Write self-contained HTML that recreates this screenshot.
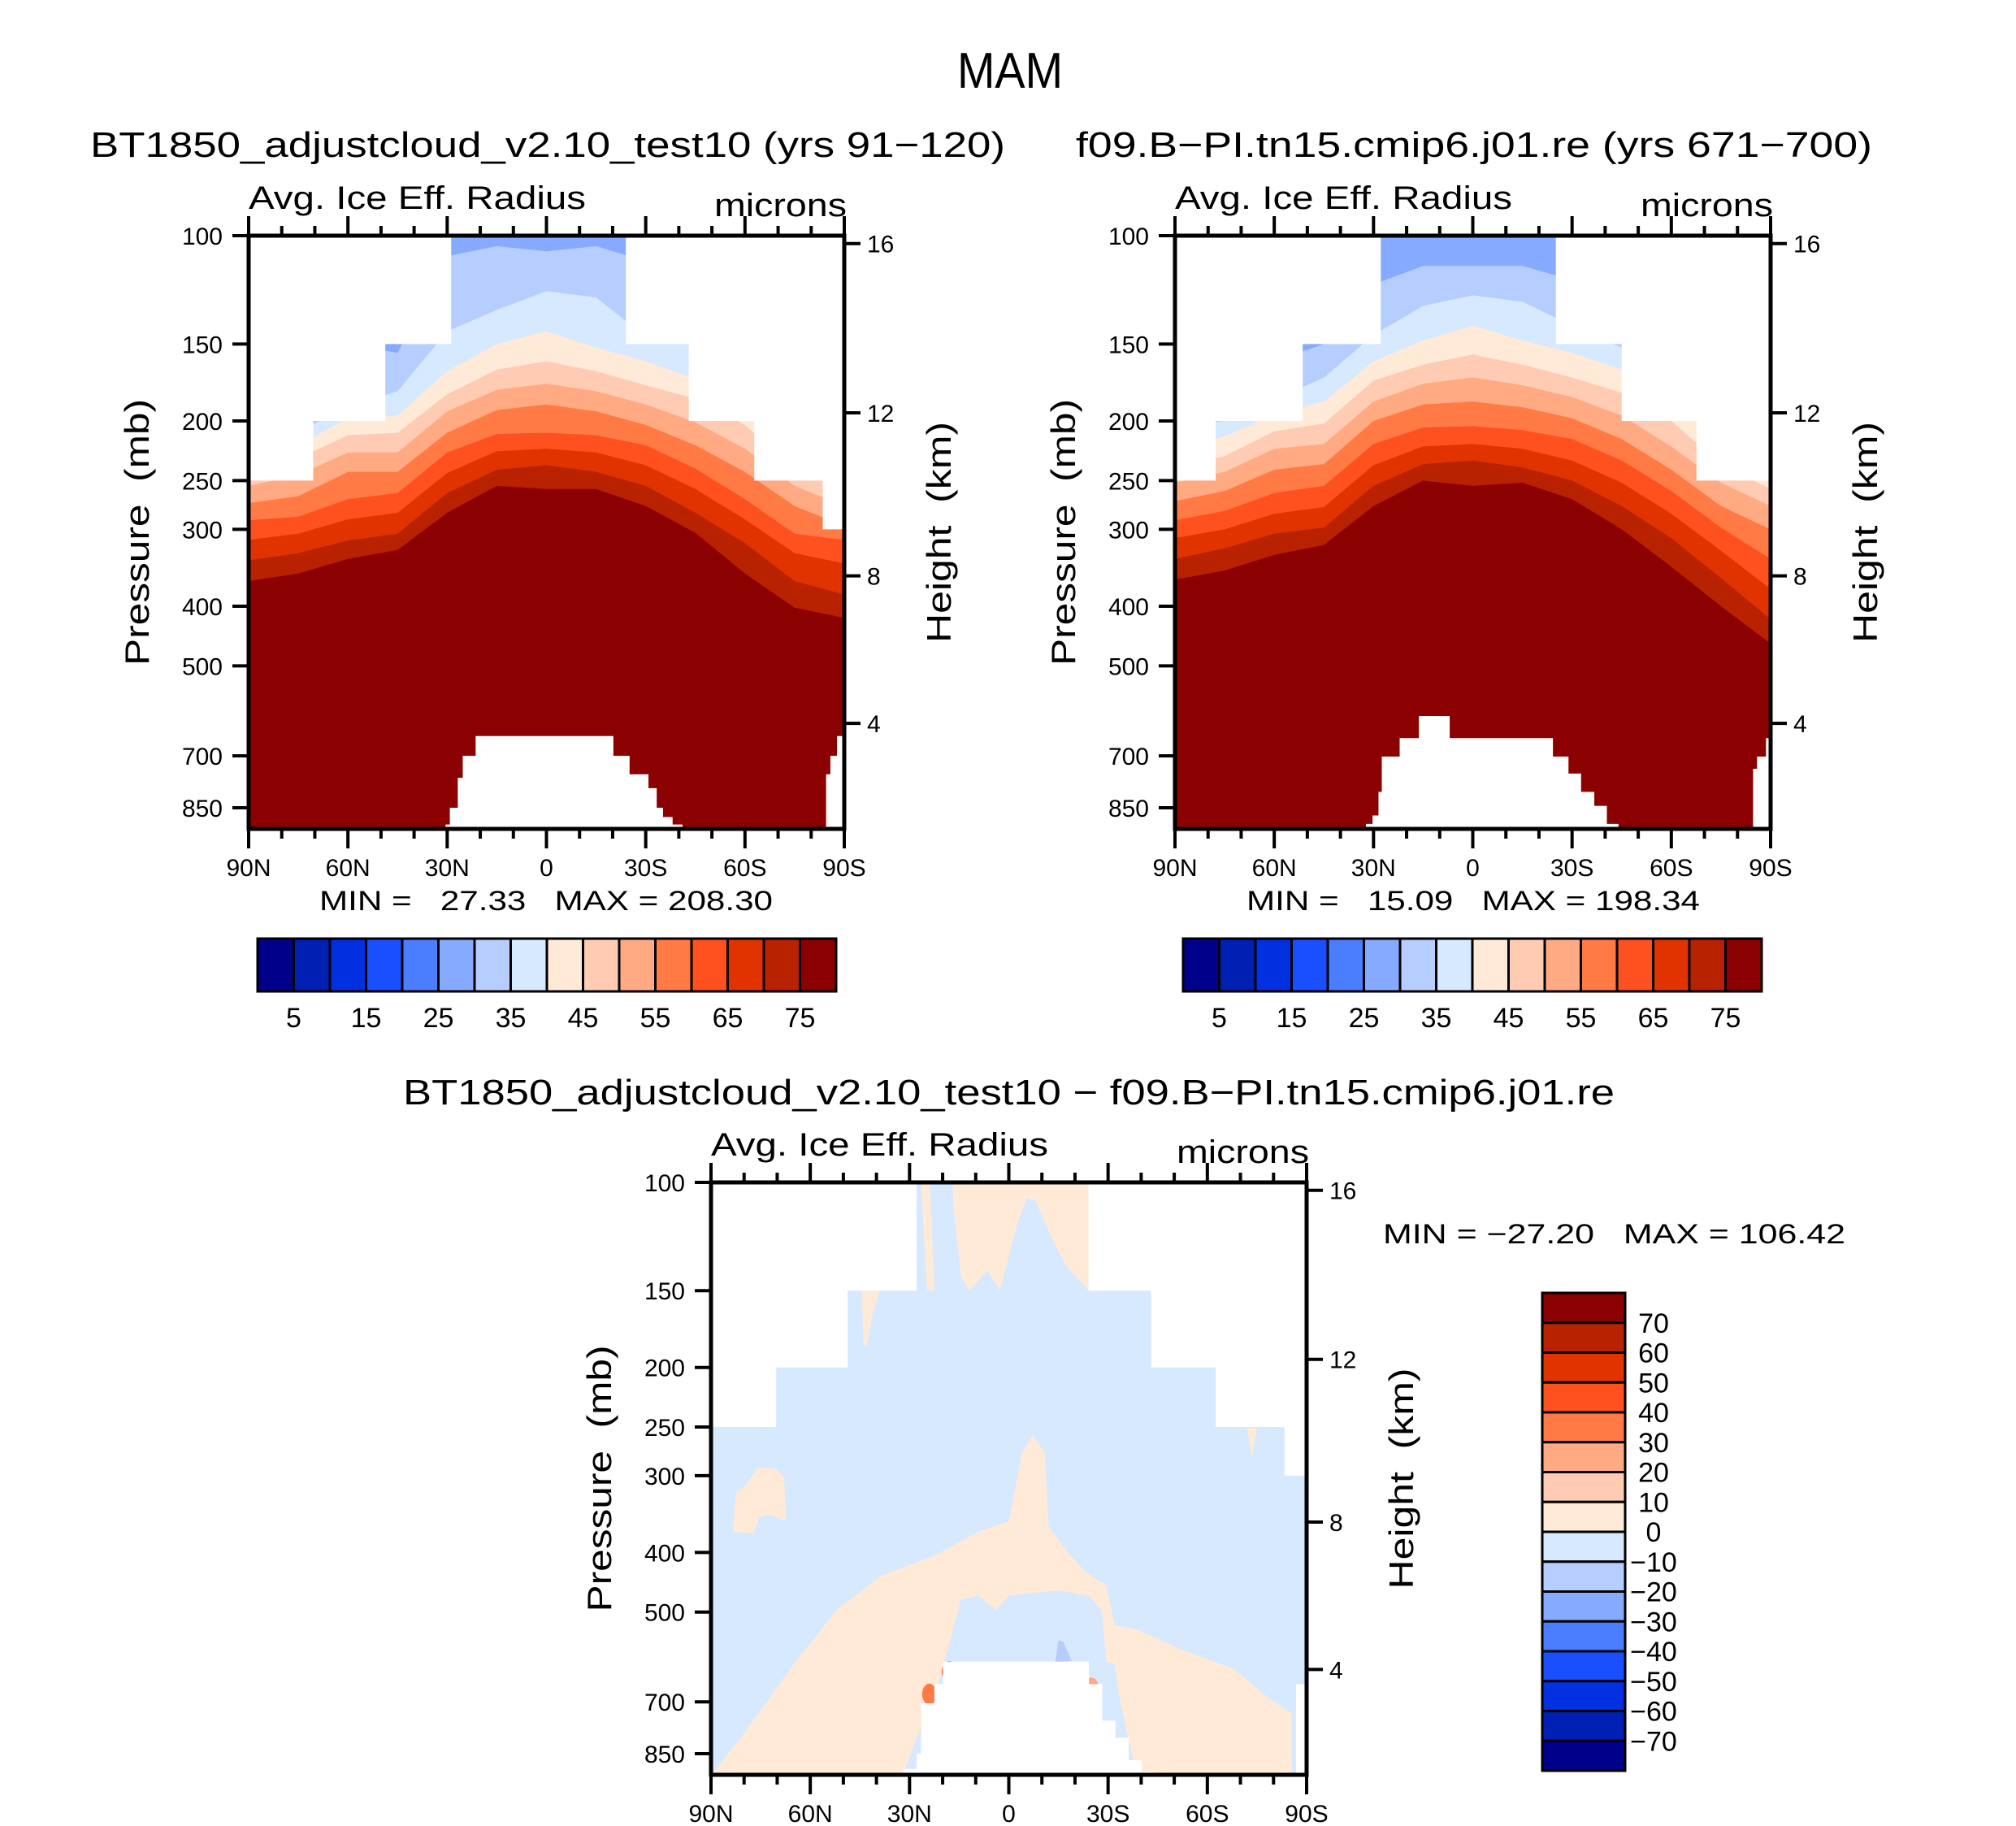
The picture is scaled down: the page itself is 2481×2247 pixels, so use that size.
<!DOCTYPE html>
<html><head><meta charset="utf-8"><style>
html,body{margin:0;padding:0;background:#fff}
svg{display:block}
text{font-family:"Liberation Sans",sans-serif;fill:#000;white-space:pre}
</style></head><body>
<svg id="fig" width="2481" height="2247" viewBox="0 0 2481 2247" xmlns="http://www.w3.org/2000/svg">
<rect width="2481" height="2247" fill="#fff"/>
<text x="1243" y="108" font-size="62" text-anchor="middle" textLength="130" lengthAdjust="spacingAndGlyphs">MAM</text>
<g id="p1"></g>
<g id="p2"></g>
<g id="p3"></g>
</svg>
<script>
// ---- data ----
const lats=[90,75,60,45,30,15,0,-15,-30,-45,-60,-75,-90];
const levels=[30,35,40,45,50,55,60,65,70,75];
// panel 1 boundary pressures (mb) per level
const a1_L30=[150,150,150,155,108,104,106,104,110,125,150,190,210];
const a1_L35=[210,208,190,179,143,132,123,126,146,150,175,210,230];
const a1_L40=[225,219,198,196,166,150,143,152,160,171,190,225,245];
const a1_L45=[240,230,211,209,181,165,160,166,175,184,203,240,258];
const a1_L50=[255,245,225,225,193,178,174,179,188,201,222,255,275];
const a1_L55=[272,265,242,242,209,192,188,193,203,219,242,275,296];
const a1_L60=[290,286,268,262,225,210,209,211,219,239,268,305,312];
const a1_L65=[312,305,289,282,243,224,222,225,236,258,289,328,341];
const a1_L70=[337,328,313,305,262,240,236,242,255,282,316,364,383];
const a1_L75=[364,354,335,324,282,255,258,258,275,304,354,402,418];
// panel 2
const a2_L30=[160,160,160,150,120,112,112,112,118,140,158,185,210];
const a2_L35=[205,200,185,170,145,130,125,128,140,152,170,200,230];
const a2_L40=[222,212,195,186,160,148,140,148,155,165,182,215,245];
const a2_L45=[238,228,208,202,172,162,156,162,170,180,200,235,258];
const a2_L50=[252,242,222,218,186,174,170,175,183,196,220,252,275];
const a2_L55=[270,260,240,235,200,188,186,190,198,214,240,275,300];
const a2_L60=[290,280,262,255,218,205,204,207,214,232,260,298,335];
const a2_L65=[310,300,283,276,236,220,218,222,232,252,283,325,375];
const a2_L70=[335,322,305,298,255,235,232,238,250,275,310,360,420];
const a2_L75=[362,350,330,318,275,250,255,252,268,300,345,400,460];
// data-top staircase (lat edges, pressure of top)
const stair1Lat=[90,70.5,48.7,28.8,-24,-43,-62.8,-83.5,-90];
const stair1P=[250,200,150,100,150,200,250,300];
const stair2Lat=[90,77.7,51.4,27.8,-25.1,-45,-67.6,-90];
const stair2P=[250,200,150,100,150,200,250];
const stair3Lat=[90,70.3,48.7,27.9,-24.1,-43,-62.5,-83.3,-90];
const stair3P=[250,200,150,100,150,200,250,300];
// below-surface masks: segment start lat, end lat, surface pressure
const mask1From=[30.5,29.2,26.8,25.3,21.4,-20.1,-25,-30.7,-33.2,-35.1,-38,-84.5,-85.8,-87.8];
const mask1To  =[29.2,26.8,25.3,21.4,-20.1,-25,-30.7,-33.2,-35.1,-38,-41,-85.8,-87.8,-90];
const mask1P   =[905,850,760,700,650,700,750,790,850,880,905,750,700,650];
const mask2From=[32.3,30.3,28.5,27.5,22.1,16.3,7.1,-24.1,-28.8,-32.6,-36.6,-40.4,-84.7,-85.9,-88.6];
const mask2To  =[30.3,28.5,27.5,22.1,16.3,7.1,-24.1,-28.8,-32.6,-36.6,-40.4,-43.9,-85.9,-88.6,-90];
const mask2P   =[903,875,801,702,655,603,655,702,748,801,844,903,735,702,655];
const mask3From=[31.9,27.9,26.5,22.5,19.9,-24.1,-28.1,-32.1,-36.1,-40.1,-86.8];
const mask3To  =[27.9,26.5,22.5,19.9,-24.1,-28.1,-32.1,-36.1,-40.1,-44.1,-90];
const mask3P   =[900,850,704,655,602,655,751,801,871,910,655];
// difference panel: positive (0-10) regions as lat/pressure outlines
const posMainLat=[90,81,65,52,38.5,22.5,9.2,0,-4,-7.3,-10.8,-12,-17.5,-22.8,-29.5,-32,-38.8,-52,-68,-78.8,-85.5,-85.5];
const posMainP  =[928,801,608,496,436,405,370,356,275,258,275,363,398,428,453,525,534,575,619,692,731,928];
const negHoleLat=[31.9,27.9,22.5,18.5,14.5,9.2,3.9,0,-14.8,-24.1,-28.1,-29.5,-32.1,-33.5,-36.1,-38.8];
const negHoleP  =[928,801,692,575,478,470,496,470,461,470,496,602,608,692,801,928];
const posTopLat=[17,-24.1,-24.1,-17.5,-14.8,-10.8,-8,-5.5,-2.7,0,2.7,6.5,11.9,14.5,16.7];
const posTopP  =[100,100,150,137,129,116,107,106,116,132,150,139,150,142,110];
const posStreakLat=[26.5,23.9,22.5,24.7];
const posStreakP  =[100,100,150,150];
const posLeftLat=[82.5,79.9,75.9,70.5,67.9,67.3,71.9,75.3,77.2,83.3];
const posLeftP  =[319,313,291,292,302,356,347,350,373,370];
const posSmallLat=[44.4,39.1,41.2,42.8,43.9];
const posSmallP  =[150,150,164,184,184];
const posRightLat=[-72,-75,-73.5];
const posRightP  =[251,251,281];
const neg20Lat=[-15,-16.5,-19,-14];
const neg20P  =[555,560,600,605];
const spotLat=[18,17,-18.5,-20.5,-5,24,-25];
const spotP  =[625,640,628,640,640,680,665];
const spotVal=[45,30,65,40,20,35,25];

const colors16=["#00008b","#0020b4","#0030e0","#1a4fff","#4a7dff","#86aaff","#b5cdff","#d6e9ff","#ffead7","#ffcbb2","#ffaa82","#ff7a45","#ff5020","#e03300","#b82200","#8b0000"];
const cb1Labels=["5","15","25","35","45","55","65","75"];
const cb3Labels=["70","60","50","40","30","20","10","0","−10","−20","−30","−40","−50","−60","−70"];
const pTicks=[100,150,200,250,300,400,500,700,850];
const hTickP=[103,194,357,620];
const hTickLabels=["16","12","8","4"];
const latTicks=[90,60,30,0,-30,-60,-90];
const latTickLabels=["90N","60N","30N","0","30S","60S","90S"];

const NS="http://www.w3.org/2000/svg";
function mk(tag,attrs,parent){const e=document.createElementNS(NS,tag);for(const k in attrs)e.setAttribute(k,attrs[k]);parent.appendChild(e);return e;}
const PB=920;
function axes(px,py,w,h){
  return {x:lat=>px+(90-lat)/180*w, y:p=>py+Math.log(Math.min(p,PB)/100)/Math.log(PB/100)*h};
}
function polyLP(g,A,latA,pA,fill,name){
  const pts=latA.map((l,i)=>A.x(l).toFixed(1)+","+A.y(pA[i]).toFixed(1)).join(" ");
  const e=mk("polygon",{points:pts,fill:fill},g);
  
  
  return e;
}
function frameAndAxes(g,px,py,w,h,A){
  pTicks.forEach(p=>{
    const y=A.y(p);
    mk("line",{x1:px-20,x2:px,y1:y,y2:y,stroke:"#000","stroke-width":4},g);
    const t=mk("text",{x:px-32,y:y+11,"font-size":30,"text-anchor":"end"},g);t.textContent=p;
    
    
  });
  hTickP.forEach((p,i)=>{
    const y=A.y(p);
    mk("line",{x1:px+w,x2:px+w+20,y1:y,y2:y,stroke:"#000","stroke-width":4},g);
    const t=mk("text",{x:px+w+28,y:y+11,"font-size":30},g);t.textContent=hTickLabels[i];
    
    
  });
  for(let l=90;l>=-90;l-=10){
    const x=A.x(l);const major=(l%30===0);const L=major?24:12;
    mk("line",{x1:x,x2:x,y1:py-L,y2:py,stroke:"#000","stroke-width":4},g);
    mk("line",{x1:x,x2:x,y1:py+h,y2:py+h+L,stroke:"#000","stroke-width":4},g);
  }
  latTicks.forEach((l,i)=>{
    const t=mk("text",{x:A.x(l),y:py+h+58,"font-size":30,"text-anchor":"middle"},g);t.textContent=latTickLabels[i];
    
    
  });
  const f=mk("rect",{x:px,y:py,width:w,height:h,fill:"none",stroke:"#000","stroke-width":5},g);
  
  
  const pl=mk("text",{transform:`translate(${px-123},${py+h/2}) rotate(-90)`,"font-size":42,"text-anchor":"middle",textLength:328,lengthAdjust:"spacingAndGlyphs"},g);pl.textContent="Pressure  (mb)";
  
  
  const hl=mk("text",{transform:`translate(${px+w+131},${py+h/2}) rotate(-90)`,"font-size":42,"text-anchor":"middle",textLength:272,lengthAdjust:"spacingAndGlyphs"},g);hl.textContent="Height  (km)";
  
  
  const a=mk("text",{x:px,y:py-33,"font-size":40,textLength:415,lengthAdjust:"spacingAndGlyphs"},g);a.textContent="Avg. Ice Eff. Radius";
  
  
  const m=mk("text",{x:px+w+3,y:py-24,"font-size":40,"text-anchor":"end",textLength:163,lengthAdjust:"spacingAndGlyphs"},g);m.textContent="microns";
  
  
}
function whiteMasks(g,A,py,h,sLat,sP,mF,mT,mP){
  let pts=[[A.x(90),py-2]];
  for(let i=0;i<sP.length;i++){pts.push([A.x(sLat[i]),A.y(sP[i])]);pts.push([A.x(sLat[i+1]),A.y(sP[i])]);}
  pts.push([A.x(-90),py-2]);
  const e=mk("polygon",{points:pts.map(p=>p.join(",")).join(" "),fill:"#fff"},g);
  
  
  mF.forEach((f,i)=>{
    const x1=A.x(f),x2=A.x(mT[i]),y=A.y(mP[i]);
    const r=mk("rect",{x:x1,y:y,width:Math.max(0,x2-x1+0.5),height:py+h-y,fill:"#fff"},g);
    
    
  });
}
function contourPanel(gid,px,py,w,h,bounds,sLat,sP,mF,mT,mP,title,tx,tlen,minmax,mmx,cbx){
  const g=document.getElementById(gid);const A=axes(px,py,w,h);
  const base=mk("rect",{x:px,y:py,width:w,height:h,fill:colors16[5]},g);
  
  
  bounds.forEach((arr,k)=>{
    const la=lats.concat([-90,90]);const pa=arr.concat([PB,PB]);
    polyLP(g,A,la,pa,colors16[6+k],'band-level-'+levels[k]);
  });
  whiteMasks(g,A,py,h,sLat,sP,mF,mT,mP);
  frameAndAxes(g,px,py,w,h,A);
  const t=mk("text",{x:tx,y:193,"font-size":44,textLength:tlen,lengthAdjust:"spacingAndGlyphs"},g);t.textContent=title;
  
  
  const mm=mk("text",{x:mmx,y:1120,"font-size":34,textLength:558,lengthAdjust:"spacingAndGlyphs"},g);mm.textContent=minmax;
  
  
  const cx=cbx,cw=712,cy=1155,ch=65,bw=cw/16;
  colors16.forEach((c,i)=>{
    const r=mk("rect",{x:cx+i*bw,y:cy,width:bw,height:ch,fill:c,stroke:"#000","stroke-width":3},g);
    
    
  });
  cb1Labels.forEach((s,i)=>{
    const l=mk("text",{x:cx+(2*i+1)*bw,y:1264,"font-size":34,"text-anchor":"middle"},g);l.textContent=s;
    
    
  });
}
contourPanel("p1",306,290,733,730,[a1_L30,a1_L35,a1_L40,a1_L45,a1_L50,a1_L55,a1_L60,a1_L65,a1_L70,a1_L75],
  stair1Lat,stair1P,mask1From,mask1To,mask1P,"BT1850_adjustcloud_v2.10_test10 (yrs 91−120)",111,1126,"MIN =   27.33   MAX = 208.30",393,317);
contourPanel("p2",1446,290,733,730,[a2_L30,a2_L35,a2_L40,a2_L45,a2_L50,a2_L55,a2_L60,a2_L65,a2_L70,a2_L75],
  stair2Lat,stair2P,mask2From,mask2To,mask2P,"f09.B−PI.tn15.cmip6.j01.re (yrs 671−700)",1324,980,"MIN =   15.09   MAX = 198.34",1534,1456);

// difference panel
(function(){
  const g=document.getElementById("p3");const px=875,py=1455,w=733,h=729;const A=axes(px,py,w,h);
  const base=mk("rect",{x:px,y:py,width:w,height:h,fill:"#d6e9ff"},g);
  
  
  const pos="#ffead7";
  polyLP(g,A,posMainLat,posMainP,pos,'positive-region-main');
  polyLP(g,A,negHoleLat,negHoleP,"#d6e9ff",'negative-region-inner');
  polyLP(g,A,posTopLat,posTopP,pos,'positive-region-top');
  polyLP(g,A,posStreakLat,posStreakP,pos,'positive-streak');
  polyLP(g,A,posLeftLat,posLeftP,pos,'positive-patch-left');
  polyLP(g,A,posSmallLat,posSmallP,pos,'positive-patch-small');
  polyLP(g,A,posRightLat,posRightP,pos,'positive-patch-right');
  polyLP(g,A,neg20Lat,neg20P,"#b5cdff",'negative-patch');
  spotLat.forEach((l,i)=>{
    const v=spotVal[i];
    const idx=Math.min(15,8+Math.floor(v/10));
    const e=mk("ellipse",{cx:A.x(l),cy:A.y(spotP[i]),rx:9,ry:13,fill:colors16[idx]},g);
    
    
  });
  whiteMasks(g,A,py,h,stair3Lat,stair3P,mask3From,mask3To,mask3P);
  frameAndAxes(g,px,py,w,h,A);
  const t=mk("text",{x:496,y:1359,"font-size":44,textLength:1491,lengthAdjust:"spacingAndGlyphs"},g);
  t.textContent="BT1850_adjustcloud_v2.10_test10 − f09.B−PI.tn15.cmip6.j01.re";
  
  
  const mm=mk("text",{x:1702,y:1530,"font-size":34,textLength:569,lengthAdjust:"spacingAndGlyphs"},g);
  mm.textContent="MIN = −27.20   MAX = 106.42";
  
  
  const cx=1898,cw=102,cy=1591,ch=588,bh=ch/16;
  for(let i=0;i<16;i++){
    const r=mk("rect",{x:cx,y:cy+i*bh,width:cw,height:bh,fill:colors16[15-i],stroke:"#000","stroke-width":3},g);
    
    
  }
  cb3Labels.forEach((s,i)=>{
    const l=mk("text",{x:2035,y:cy+(i+1)*bh+12,"font-size":34,"text-anchor":"middle"},g);l.textContent=s;
    
    
  });
})();
</script>
</body></html>
